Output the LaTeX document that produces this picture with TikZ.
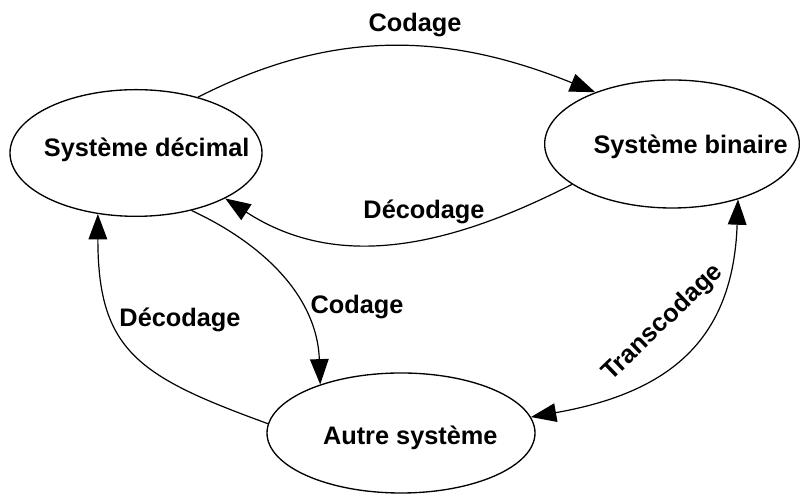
\documentclass[tikz,border=0pt]{standalone}
\usepackage{fontspec}
\setmainfont{Liberation Sans}
\usetikzlibrary{shapes.geometric, arrows.meta}

\tikzset{
  etat/.style   = {draw, ellipse, line width=1pt, inner sep=0pt},
  fleche/.style = {line width=0.9pt, -{Triangle[length=19pt, width=14pt]}},
  double/.style = {line width=0.9pt, {Triangle[length=19pt, width=14pt]}-{Triangle[length=19pt, width=14pt]}},
  texte/.style  = {font=\bfseries\fontsize{19}{22}\selectfont, inner sep=0pt}
}

\begin{document}
\begin{tikzpicture}[x=0.75pt, y=0.75pt, every label/.style={texte}]
    \useasboundingbox (0,0) rectangle (801,495);
    % the three systems
    \node[etat, minimum width=189pt, minimum height=95pt,
          label={[xshift=8pt, yshift=2pt]center:Système décimal}] (dec) at (136,342) {};
    \node[etat, minimum width=191pt, minimum height=96pt,
          label={[xshift=14pt, yshift=-2pt]center:Système binaire}] (bin) at (672,351) {};
    \node[etat, minimum width=201pt, minimum height=90pt,
          label={[xshift=7pt, yshift=-4pt]center:Autre système}] (aut) at (401,62) {};
    % labels of the arrows
    \node[texte] (cod1)  at (415,470) {Codage};
    \node[texte] (dec1)  at (424,283) {Décodage};
    \node[texte] (cod2)  at (357,188) {Codage};
    \node[texte] (dec2)  at (180,175) {Décodage};
    \node[texte, rotate=44] (trans) at (663,172) {Transcodage};
    % arrows
    \draw[fleche] (dec.42)  to[out=27, in=158]  (bin.146);
    \draw[fleche] (bin.202) to[out=207, in=-33] (dec.333);
    \draw[fleche] (dec.314) to[out=-25, in=92]  (aut.149);
    \draw[fleche] (aut.176) to[out=160, in=-90, looseness=1.3] (dec.238);
    \draw[double] (aut.7)   to[out=10, in=-92, looseness=1.2] (bin.320);
\end{tikzpicture}
\end{document}
